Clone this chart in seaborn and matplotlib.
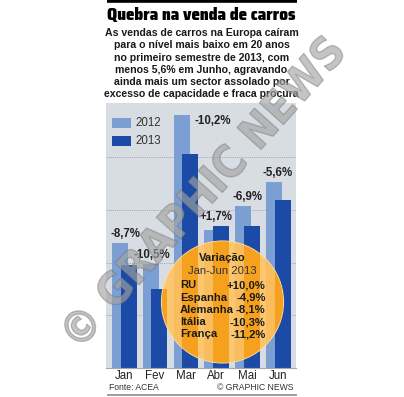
import matplotlib
matplotlib.use("Agg")
import matplotlib.pyplot as plt
import matplotlib.patheffects as pe
from matplotlib.patches import Circle
from matplotlib import font_manager
from matplotlib.font_manager import FontProperties
import numpy as np
import pandas as pd
import seaborn as sns

# data (thousands of new cars, EU)
months = ['Jan', 'Fev', 'Mar', 'Abr', 'Mai', 'Jun']
sales_2012 = [975, 895, 1461, 1024, 1116, 1207]
sales_2013 = [890, 801, 1312, 1041, 1039, 1139]
change_labels = ['-8,7%', '-10,5%', '-10,2%', '+1,7%', '-6,9%', '-5,6%']
countries = ['RU', 'Espanha', 'Alemanha', 'Itália', 'França']
country_change = ['+10,0%', '-4,9%', '-8,1%', '-10,3%', '-11,2%']

title = 'Quebra na venda de carros'
subtitle = ['As vendas de carros na Europa caíram',
            'para o nível mais baixo em 20 anos',
            'no primeiro semestre de 2013, com',
            'menos 5,6% em Junho, agravando',
            'ainda mais um sector assolado por',
            'excesso de capacidade e fraca procura']

LIGHT = '#7b9fd3'
DARK = '#1b4ba6'
PANEL = '#d8dce3'

sns.set_style('white')
plt.rcParams['font.family'] = ['Liberation Sans', 'DejaVu Sans']


def weight_num(w):
    if isinstance(w, (int, float)):
        return w
    return {'bold': 700, 'heavy': 800, 'black': 900, 'extra bold': 800,
            'semibold': 600, 'demibold': 600}.get(str(w).lower(), 400)


# condensed faces for the headline and the watermark
conds = []
for f in font_manager.fontManager.ttflist:
    tag = (f.name + ' ' + f.fname).lower()
    if 'condensed' in str(f.stretch).lower() or 'condensed' in tag or 'narrow' in tag:
        if 'italic' in tag or 'oblique' in tag or str(f.style) != 'normal':
            continue
        conds.append((weight_num(f.weight), f.fname))

if conds:
    title_fp = FontProperties(fname=max(conds)[1])
    wm_fp = FontProperties(fname=min(conds, key=lambda c: abs(c[0] - 700))[1])
else:
    title_fp = FontProperties(family='Liberation Sans', weight='bold')
    wm_fp = title_fp

W, H = 404, 397
fig = plt.figure(figsize=(W / 100, H / 100), dpi=100)

# overlay in pixel coordinates
ov = fig.add_axes([0, 0, 1, 1], zorder=3)
ov.set_xlim(0, W)
ov.set_ylim(H, 0)
ov.axis('off')
ov.patch.set_alpha(0)

# main chart panel
ax = fig.add_axes([106 / W, (H - 368) / H, 190 / W, 265 / H], zorder=1)
ax.set_facecolor(PANEL)

df = pd.DataFrame({'pos': np.arange(len(months)), 'month': months,
                   's2012': sales_2012, 's2013': sales_2013})
off12, off13, bw = -0.13, 0.15, 0.52

sns.barplot(x=df['pos'] + off12, y=df['s2012'], native_scale=True, width=bw,
            color=LIGHT, saturation=1, ax=ax, zorder=2, linewidth=0)
sns.barplot(x=df['pos'] + off13, y=df['s2013'], native_scale=True, width=bw,
            color=DARK, saturation=1, ax=ax, zorder=2, linewidth=0)

for gy in [700, 900, 1100, 1300]:
    ax.axhline(gy, color='#9ea3aa', lw=0.7, ls=(0, (1, 1.2)), zorder=1)

# orange "Variação" disc, tinted where the bars pass behind it
disc = Circle((222.5, 302), 61, transform=ov.transData, facecolor='#fbc670',
              edgecolor='#fddca0', lw=0.8, zorder=5)
ax.add_patch(disc)
clip = Circle((222.5, 302), 60.6, transform=ov.transData)
b1 = ax.bar(df['pos'] + off12, df['s2012'], width=bw, color='#fabd5e', zorder=6, lw=0)
b2 = ax.bar(df['pos'] + off13, df['s2013'], width=bw, color='#f5a11e', zorder=6, lw=0)
for p in list(b1) + list(b2):
    p.set_clip_path(clip)

ax.set_xlim(-0.584, 5.584)
ax.set_ylim(500, 1507)
ax.set_xlabel('')
ax.set_ylabel('')
ax.set_yticks([])
ax.set_xticks(df['pos'])
ax.set_xticklabels(months, fontsize=8.3, color='#222222')
ax.tick_params(axis='x', length=0, pad=1.5)
for s in ['top', 'left', 'right']:
    ax.spines[s].set_visible(False)
ax.spines['bottom'].set_color('#a4a8ae')
ax.spines['bottom'].set_linewidth(0.8)

# change labels
for i, lab in enumerate(change_labels):
    top = max(sales_2012[i], sales_2013[i])
    if i == 2:
        ax.annotate(lab, (i + 0.88, top), xytext=(0, -4), textcoords='offset points',
                    ha='center', va='center', fontsize=8.3, fontweight='bold',
                    color='#222222', zorder=7)
    else:
        dx = {0: 0.06, 1: -0.1}.get(i, 0)
        ax.annotate(lab, (i + dx, top), xytext=(0, 6.5), textcoords='offset points',
                    ha='center', va='center', fontsize=8.3, fontweight='bold',
                    color='#222222', zorder=7)

# legend
for k, (col, yr) in enumerate([(LIGHT, '2012'), (DARK, '2013')]):
    y0 = 118 + k * 18
    ov.add_patch(plt.Rectangle((112, y0), 19, 10, color=col, lw=0))
    ov.text(135, y0 + 5.3, yr, fontsize=8.3, color='#333333', va='center', ha='left')

# disc texts
ov.text(222.5, 258, 'Variação', fontsize=8.1, fontweight='bold', ha='center',
        va='center', color='#1a1a1a')
ov.text(222.5, 271, 'Jan-Jun 2013', fontsize=8.1, ha='center', va='center',
        color='#333333')
for k, (c, v) in enumerate(zip(countries, country_change)):
    yy = 285.5 + k * 12.2
    ov.text(180, yy, c, fontsize=8.1, fontweight='bold', ha='left', va='center',
            color='#1a1a1a')
    ov.text(265.5, yy, v, fontsize=8.1, fontweight='bold', ha='right', va='center',
            color='#1a1a1a')

# header
ov.plot([106.5, 297], [1.3, 1.3], color='black', lw=2.6, solid_capstyle='butt')
t = ov.text(201.5, 15.5, title, fontproperties=title_fp, fontsize=13,
            ha='center', va='center', color='black')
for k, line in enumerate(subtitle):
    ov.text(201.5, 33.3 + k * 12.2, line, fontsize=7.6, fontweight='bold',
            ha='center', va='center', color='#1a1a1a')

# footer
ov.text(109, 388, 'Fonte: ACEA', fontsize=6.2, ha='left', va='center', color='#333333')
ov.text(293.5, 388, '© GRAPHIC NEWS', fontsize=6.2, ha='right', va='center', color='#333333')
ov.plot([106.5, 297], [394.5, 394.5], color='#8c8c8c', lw=1.2, solid_capstyle='butt')

# watermark
wm = ov.text(204, 194, '© GRAPHIC NEWS', fontproperties=wm_fp, fontsize=34,
             rotation=48, rotation_mode='anchor', ha='center', va='center',
             color=(0.64, 0.64, 0.64, 0.4),
             path_effects=[pe.Stroke(linewidth=1.0, foreground=(0.4, 0.4, 0.4, 0.42)),
                           pe.Normal()])

# fit the headline and watermark to the widths they have in the original
r = fig.canvas.get_renderer()
w = t.get_window_extent(r).width
t.set_fontsize(13 * 189 / w)
wm.set_rotation(0)
w = wm.get_window_extent(r).width
wm.set_fontsize(34 * 402 / w)
wm.set_rotation(48)

fig.savefig('out.png', dpi=100, facecolor='white')
